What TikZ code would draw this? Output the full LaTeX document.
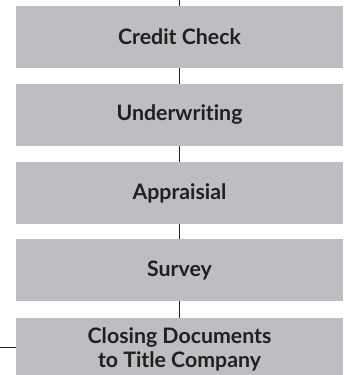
\documentclass[tikz,border=0pt]{standalone}
\usepackage{fontspec}
\setmainfont{Lato}[Ligatures=NoCommon]
\definecolor{boxgrey}{RGB}{188,190,193}
\definecolor{inkdark}{RGB}{35,31,32}
\begin{document}
\begin{tikzpicture}[x=1pt,y=-1pt,
  stagebox/.style={fill=boxgrey, draw=none, minimum width=327pt, minimum height=62pt,
    inner sep=0pt, align=center, text=inkdark,
    font=\fontsize{21.3}{24}\selectfont\bfseries},
  link/.style={draw=inkdark, line width=0.9pt}]
\useasboundingbox (0,0) rectangle (343,375);
\clip (0,0) rectangle (343,375);
\node[stagebox] (credit) at (179.5,37) {Credit Check};
\node[stagebox] (under)  at (179.5,115) {Underwriting};
\node[stagebox] (apprai) at (179.5,193) {Appraisial};
\node[stagebox] (survey) at (179.5,270) {Survey};
\node[stagebox] (closing) at (179.5,349) {Closing Documents\\to Title Company};
\coordinate (topin) at (179.5,0);
\coordinate (leftin) at (0,347.7);
\draw[link] (topin) -- (credit.north);
\draw[link] (credit.south) -- (under.north);
\draw[link] (under.south) -- (apprai.north);
\draw[link] (apprai.south) -- (survey.north);
\draw[link] (survey.south) -- (closing.north);
\draw[link] (leftin) -- (leftin -| closing.west);
\end{tikzpicture}
\end{document}
